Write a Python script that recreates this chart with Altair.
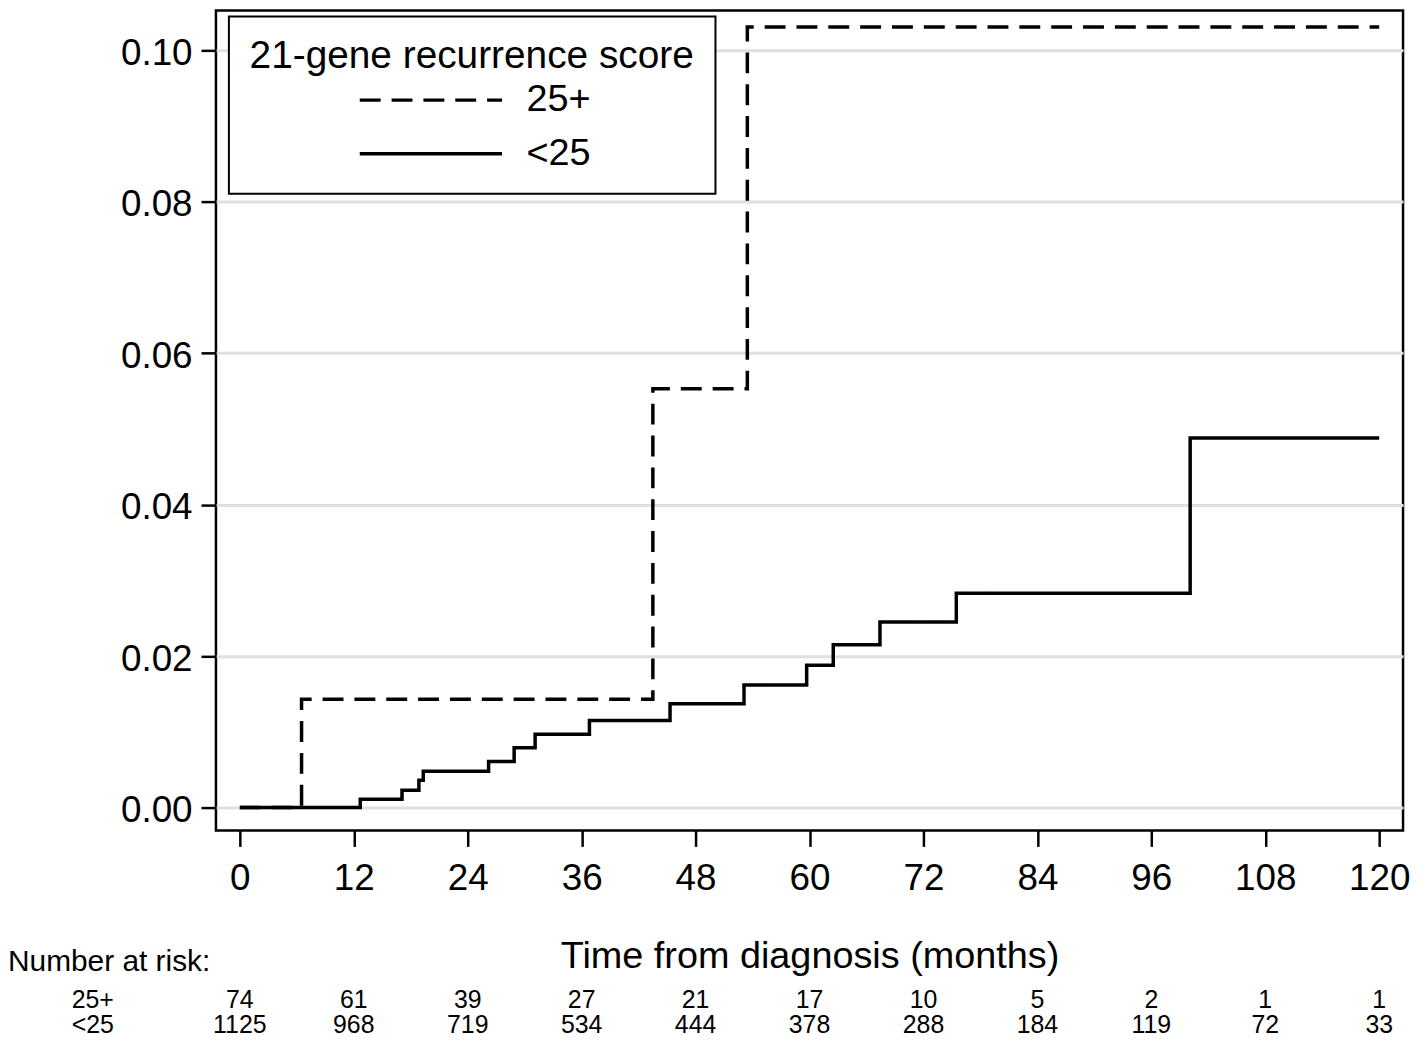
import altair as alt
import pandas as pd

FONT = "Liberation Sans"
NARROW = "Liberation Sans Narrow, Liberation Sans"

groups = ["25+", "<25"]

# cumulative incidence step curves (months, probability)
t_high = [0, 6.5, 43.5, 53.45, 120]
s_high = [0, 0.0143, 0.0553, 0.1031, 0.1031]

t_low = [0, 12.68, 17.08, 18.86, 19.32, 26.2, 28.89, 31.1, 36.82, 45.31,
         53.1, 59.7, 62.5, 67.42, 75.46, 100.09, 120]
s_low = [0, 0.0011, 0.0023, 0.0036, 0.0048, 0.0061, 0.0079, 0.0097, 0.0115,
         0.0137, 0.0162, 0.0188, 0.0215, 0.0245, 0.0283, 0.0488, 0.0488]

# number at risk table
risk_months = [0, 12, 24, 36, 48, 60, 72, 84, 96, 108, 120]
risk_high = [74, 61, 39, 27, 21, 17, 10, 5, 2, 1, 1]
risk_low = [1125, 968, 719, 534, 444, 378, 288, 184, 119, 72, 33]

x_ticks = [0, 12, 24, 36, 48, 60, 72, 84, 96, 108, 120]
y_ticks = [0.0, 0.02, 0.04, 0.06, 0.08, 0.10]

curves = pd.DataFrame({
    "time": t_high + t_low,
    "risk": s_high + s_low,
    "group": [groups[0]] * len(t_high) + [groups[1]] * len(t_low),
})
risk_hi_df = pd.DataFrame({"time": risk_months, "n": risk_high})
risk_lo_df = pd.DataFrame({"time": risk_months, "n": risk_low})

ROW1, ROW2 = 1010, 1036

xscale = alt.Scale(domain=[-2.515, 122.51], nice=False, zero=False)
yscale = alt.Scale(domain=[-0.00302, 0.10526], nice=False, zero=False)

lines = alt.Chart(curves).mark_line(
    interpolate="step-after", strokeWidth=3.5, color="black"
).encode(
    x=alt.X("time:Q", scale=xscale,
            axis=alt.Axis(values=x_ticks, title="Time from diagnosis (months)",
                          grid=False, labelPadding=14, tickSize=16,
                          titleBaseline="alphabetic", titleY=138,
                          titleFontSize=38)),
    y=alt.Y("risk:Q", scale=yscale,
            axis=alt.Axis(values=y_ticks, format=".2f", title=None, grid=True,
                          tickSize=15, labelPadding=9, labelOffset=3,
                          labelBaseline="middle")),
    strokeDash=alt.StrokeDash(
        "group:N",
        scale=alt.Scale(domain=groups, range=[[21, 11], [1, 0]]),
        legend=alt.Legend(
            title="21-gene recurrence score", orient="none",
            legendX=13, legendY=6, direction="vertical",
            strokeColor="black", fillColor="white", padding=21,
            titleFontSize=39, titleFont=FONT, titleFontWeight="normal",
            titleColor="black", titleAnchor="middle", titleAlign="center",
            titleLimit=800, titlePadding=-2,
            labelFontSize=38, labelFont=FONT, labelLimit=400,
            labelColor="black", labelOffset=70,
            symbolType="M-3,0H3", symbolSize=2272,
            symbolStrokeWidth=3.5, symbolStrokeColor="black",
            symbolOffset=53, rowPadding=9,
        ),
    ),
)

txt_hi = alt.Chart(risk_hi_df).mark_text(
    font=NARROW, fontSize=25, align="center", baseline="alphabetic", color="black"
).encode(x=alt.X("time:Q"), y=alt.value(ROW1 - 8), text="n:Q")

txt_lo = alt.Chart(risk_lo_df).mark_text(
    font=NARROW, fontSize=25, align="center", baseline="alphabetic", color="black"
).encode(x=alt.X("time:Q"), y=alt.value(ROW2 - 8), text="n:Q")

row_labels = pd.DataFrame({"label": groups, "row": [ROW1 - 8, ROW2 - 8]})
lbl = alt.Chart(row_labels).mark_text(
    font=NARROW, fontSize=25, align="left", baseline="alphabetic", color="black"
).encode(x=alt.value(72 - 217), y=alt.Y("row:Q", scale=None), text="label:N")

head = alt.Chart(pd.DataFrame({"label": ["Number at risk:"]})).mark_text(
    font=FONT, fontSize=30, align="left", baseline="alphabetic", color="black"
).encode(x=alt.value(-209), y=alt.value(973 - 8), text="label:N")

chart = alt.layer(lines, txt_hi, txt_lo, lbl, head).properties(
    width=1193, height=824,
    padding={"left": 209, "top": 0, "right": 7, "bottom": 208},
    autosize=alt.AutoSizeParams(type="none"),
    background="white",
).configure_view(
    stroke="black", strokeWidth=2.5
).configure_legend(
    strokeWidth=2
).configure_axis(
    domain=False, tickColor="black", tickWidth=2.5,
    labelColor="black", labelFont=FONT, labelFontSize=37,
    labelFlush=False, labelOverlap=False,
    titleColor="black", titleFont=FONT, titleFontWeight="normal",
    gridColor="#e0e0e0", gridWidth=3,
)

chart.save("out.html", embed_options={"renderer": "svg", "actions": False})
